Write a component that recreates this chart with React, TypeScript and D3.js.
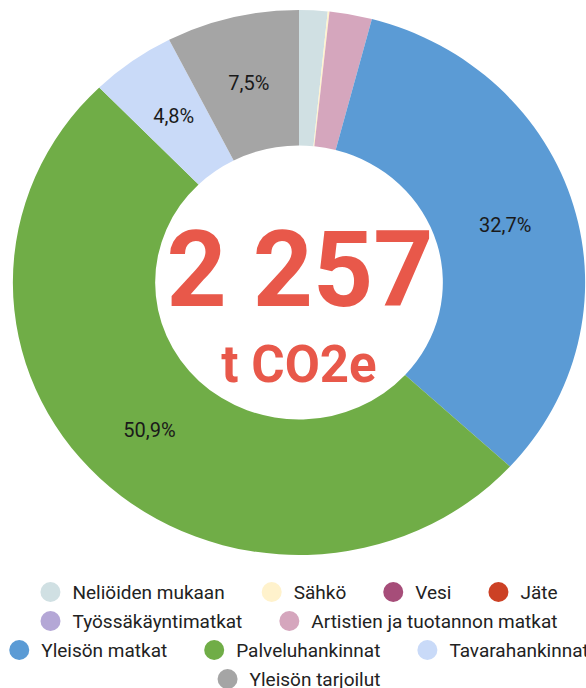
import { useEffect, useRef } from 'react';
import * as d3 from 'd3';

// Päästöjen jakauma (%), luettu kuvasta
const categories = [
  'Neliöiden mukaan',
  'Sähkö',
  'Vesi',
  'Jäte',
  'Työssäkäyntimatkat',
  'Artistien ja tuotannon matkat',
  'Yleisön matkat',
  'Palveluhankinnat',
  'Tavarahankinnat',
  'Yleisön tarjoilut',
];
const shares = [1.6, 0.1, 0, 0, 0, 2.4, 32.7, 50.9, 4.8, 7.5];
const colors = [
  '#d0e0e3', '#fff2cc', '#a64d79', '#cc4125', '#b4a7d6',
  '#d5a6bd', '#5b9bd5', '#70ad47', '#c9daf8', '#a5a5a5',
];
const totalText = '2 257';
const unitText = 't CO2e';
// how many legend items go on each line
const legendRows = [4, 2, 3, 1];

const W = 586;
const H = 688;

export default function App() {
  const svgRef = useRef<SVGSVGElement>(null);

  useEffect(() => {
    if (!svgRef.current) return;
    const svg = d3.select(svgRef.current);
    svg.selectAll('*').remove();

    const cx = 299;
    const cy = 282.5;
    const outer = 272.5;
    const inner = 137;
    const sx = 1.05; // the donut is a little wider than tall

    const pie = d3.pie<number>().sort(null).value(d => d);
    const arcs = pie(shares);
    const arc = d3.arc<d3.PieArcDatum<number>>().innerRadius(inner).outerRadius(outer);
    const labelArc = d3.arc<d3.PieArcDatum<number>>()
      .innerRadius((inner + outer) / 2)
      .outerRadius((inner + outer) / 2);

    svg.append('g')
      .attr('transform', `translate(${cx},${cy}) scale(${sx},1)`)
      .selectAll('path')
      .data(arcs)
      .join('path')
      .attr('d', arc)
      .attr('fill', (_, i) => colors[i]);

    // percentage labels on the bigger slices
    svg.append('g')
      .selectAll('text')
      .data(arcs.filter(a => a.data >= 4))
      .join('text')
      .attr('x', a => cx + labelArc.centroid(a)[0] * sx)
      .attr('y', a => cy + labelArc.centroid(a)[1])
      .attr('text-anchor', 'middle')
      .attr('dominant-baseline', 'central')
      .attr('font-family', 'Roboto')
      .attr('font-size', 20)
      .attr('fill', '#1a1a1a')
      .text(a => a.data.toFixed(1).replace('.', ',') + '%');

    // total in the hole
    svg.append('text')
      .attr('x', cx + 1)
      .attr('y', 306)
      .attr('text-anchor', 'middle')
      .attr('font-family', 'Roboto')
      .attr('font-weight', 'bold')
      .attr('font-size', 105)
      .attr('fill', '#e8584a')
      .text(totalText);

    svg.append('text')
      .attr('x', cx)
      .attr('y', 382)
      .attr('text-anchor', 'middle')
      .attr('font-family', 'Roboto')
      .attr('font-weight', 'bold')
      .attr('font-size', 51)
      .attr('fill', '#e8584a')
      .text(unitText);

    // legend
    const legend = svg.append('g');
    const dotR = 10;
    const dotGap = 22;
    const itemGap = 37;
    const rowY0 = 592;
    const rowStep = 29;
    let idx = 0;
    legendRows.forEach((count, r) => {
      const y = rowY0 + r * rowStep;
      const row = legend.append('g');
      let x = 0;
      for (let k = 0; k < count; k++, idx++) {
        const item = row.append('g').attr('transform', `translate(${x},0)`);
        item.append('circle')
          .attr('cx', dotR)
          .attr('cy', y)
          .attr('r', dotR)
          .attr('fill', colors[idx]);
        const t = item.append('text')
          .attr('x', dotR + dotGap)
          .attr('y', y)
          .attr('dominant-baseline', 'central')
          .attr('font-family', 'Roboto')
          .attr('font-size', 19)
          .attr('fill', '#222')
          .text(categories[idx]);
        const tw = (t.node() as SVGTextElement).getComputedTextLength();
        x += dotR + dotGap + tw + itemGap;
      }
      const rowWidth = x - itemGap;
      row.attr('transform', `translate(${cx - rowWidth / 2},0)`);
    });
  }, []);

  return (
    <div style={{ position: 'absolute', left: 0, top: 0, width: W, height: H, background: '#fff' }}>
      <svg ref={svgRef} width={W} height={H} style={{ display: 'block' }} />
    </div>
  );
}
